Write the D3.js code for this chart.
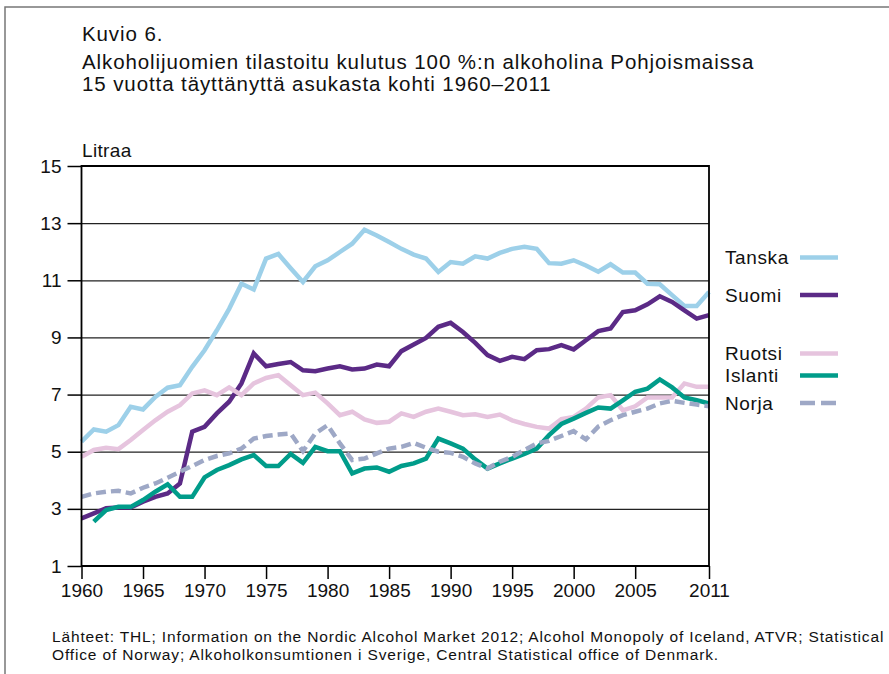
<!DOCTYPE html>
<html>
<head>
<meta charset="utf-8">
<script src="https://cdn.jsdelivr.net/npm/d3@7"></script>
<style>
  html, body { margin: 0; padding: 0; background: #fff; }
  svg { display: block; font-family: "Liberation Sans", Arial, Helvetica, sans-serif; }
</style>
</head>
<body>
<svg id="chart" width="889" height="674"></svg>
<script>
// ---- Data ----
const years = d3.range(1960, 2012);
const xTickValues = [1960, 1965, 1970, 1975, 1980, 1985, 1990, 1995, 2000, 2005, 2011];
const yTickValues = [1, 3, 5, 7, 9, 11, 13, 15];

const tanska = [5.35, 5.78, 5.70, 5.93, 6.57, 6.48, 6.92, 7.24, 7.33, 7.97,
  8.55, 9.25, 10.0, 10.88, 10.68, 11.76, 11.92, 11.42, 10.94, 11.49,
  11.70, 11.99, 12.28, 12.77, 12.57, 12.34, 12.10, 11.90, 11.76, 11.29,
  11.64, 11.58, 11.84, 11.76, 11.96, 12.10, 12.17, 12.10, 11.60, 11.58,
  11.70, 11.52, 11.30, 11.56, 11.27, 11.27, 10.88, 10.86, 10.48, 10.10,
  10.10, 10.59];
const suomi = [2.67, 2.84, 3.02, 3.05, 3.05, 3.25, 3.42, 3.54, 3.89, 5.70,
  5.87, 6.34, 6.75, 7.39, 8.44, 7.99, 8.07, 8.14, 7.85, 7.82,
  7.91, 7.99, 7.88, 7.91, 8.05, 7.99, 8.52, 8.75, 8.98, 9.37,
  9.51, 9.19, 8.81, 8.38, 8.18, 8.32, 8.24, 8.55, 8.59, 8.73,
  8.58, 8.90, 9.22, 9.31, 9.89, 9.95, 10.16, 10.44, 10.24, 9.95,
  9.66, 9.78];
const ruotsi = [4.82, 5.06, 5.14, 5.09, 5.41, 5.76, 6.10, 6.40, 6.63, 7.04,
  7.15, 6.98, 7.25, 6.98, 7.39, 7.58, 7.68, 7.33, 6.98, 7.07,
  6.69, 6.28, 6.40, 6.13, 6.01, 6.05, 6.34, 6.22, 6.40, 6.51,
  6.40, 6.28, 6.31, 6.22, 6.30, 6.10, 5.97, 5.87, 5.81, 6.14,
  6.22, 6.51, 6.90, 6.98, 6.45, 6.59, 6.90, 6.90, 6.90, 7.39,
  7.27, 7.27];
const islanti = [null, 2.55, 2.96, 3.07, 3.07, 3.31, 3.60, 3.86, 3.42, 3.42,
  4.10, 4.36, 4.53, 4.73, 4.88, 4.50, 4.50, 4.92, 4.61, 5.17,
  5.02, 5.02, 4.24, 4.41, 4.45, 4.30, 4.50, 4.59, 4.76, 5.46,
  5.29, 5.11, 4.73, 4.41, 4.59, 4.76, 4.92, 5.11, 5.58, 5.97,
  6.16, 6.36, 6.55, 6.51, 6.80, 7.10, 7.21, 7.53, 7.25, 6.90,
  6.80, 6.69];
const norja = [3.42, 3.54, 3.60, 3.63, 3.54, 3.74, 3.89, 4.09, 4.30, 4.50,
  4.71, 4.85, 4.94, 5.11, 5.46, 5.55, 5.60, 5.64, 5.02, 5.64,
  5.93, 5.29, 4.71, 4.76, 4.94, 5.11, 5.17, 5.31, 5.14, 5.00,
  4.96, 4.82, 4.59, 4.41, 4.65, 4.82, 5.06, 5.29, 5.38, 5.55,
  5.72, 5.43, 5.88, 6.10, 6.28, 6.40, 6.51, 6.69, 6.78, 6.71,
  6.65, 6.59];

const seriesNames = ["Tanska", "Suomi", "Ruotsi", "Islanti", "Norja"];
const seriesValues = [tanska, suomi, ruotsi, islanti, norja];
const seriesColors = ["#9dd0e9", "#5b2a86", "#e6c4de", "#009c8a", "#9ea8c6"];
const seriesDashed = [false, false, false, false, true];

const titleLines = ["Kuvio 6.",
  "Alkoholijuomien tilastoitu kulutus 100 %:n alkoholina Pohjoismaissa",
  "15 vuotta täyttänyttä asukasta kohti 1960–2011"];
const yLabel = "Litraa";
const sourceLines = ["Lähteet: THL; Information on the Nordic Alcohol Market 2012; Alcohol Monopoly of Iceland, ATVR; Statistical",
  "Office of Norway; Alkoholkonsumtionen i Sverige, Central Statistical office of Denmark."];

// ---- Layout ----
const svg = d3.select("#chart");
const pLeft = 81.5, pRight = 709, pTop = 166, pBottom = 566;
const x = d3.scaleLinear().domain([1960, 2011]).range([pLeft, pRight]);
const y = d3.scaleLinear().domain([1, 15]).range([pBottom, pTop]);

// outer border (top and left only)
svg.append("path")
  .attr("d", `M5,674 L5,7 L889,7`)
  .attr("fill", "none").attr("stroke", "#777").attr("stroke-width", 1.5);

// titles
svg.append("g").selectAll("text").data(titleLines).join("text")
  .attr("x", 82)
  .attr("y", (d, i) => [41, 69, 90.5][i])
  .attr("font-size", 20.5)
  .attr("letter-spacing", 0.9)
  .attr("fill", "#111")
  .text(d => d);

svg.append("text").attr("x", 82).attr("y", 157)
  .attr("font-size", 19).attr("letter-spacing", 0.35)
  .attr("fill", "#111").text(yLabel);

// gridlines
const grid = svg.append("g").attr("transform", `translate(${pLeft},0)`)
  .call(d3.axisLeft(y).tickValues(yTickValues).tickSize(-(pRight - pLeft)).tickFormat(""));
grid.select(".domain").remove();
grid.selectAll("line").attr("stroke", "#222").attr("stroke-width", 1.2);

// y axis
const yAxis = svg.append("g").attr("transform", `translate(${pLeft},0)`)
  .call(d3.axisLeft(y).tickValues(yTickValues).tickSize(14).tickPadding(6).tickFormat(d3.format("d")));
yAxis.select(".domain").remove();
yAxis.selectAll("line").attr("stroke", "#000").attr("stroke-width", 1.5);
yAxis.selectAll("text").attr("font-size", 19).attr("fill", "#111")
  .attr("font-family", "Liberation Sans, Arial, sans-serif");

// x axis
const xAxis = svg.append("g").attr("transform", `translate(0,${pBottom})`)
  .call(d3.axisBottom(x).tickValues(xTickValues).tickSize(13).tickPadding(5).tickFormat(d3.format("d")));
xAxis.select(".domain").remove();
xAxis.selectAll("line").attr("stroke", "#000").attr("stroke-width", 1.5);
xAxis.selectAll("text").attr("font-size", 19).attr("fill", "#111")
  .attr("font-family", "Liberation Sans, Arial, sans-serif");

// series lines
const line = d3.line()
  .defined(d => d.v != null)
  .x(d => x(d.year))
  .y(d => y(d.v));

seriesValues.forEach((vals, i) => {
  const pts = years.map((yr, j) => ({ year: yr, v: vals[j] }));
  svg.append("path")
    .datum(pts)
    .attr("d", line)
    .attr("fill", "none")
    .attr("stroke", seriesColors[i])
    .attr("stroke-width", 4.5)
    .attr("stroke-linejoin", "miter")
    .attr("stroke-dasharray", seriesDashed[i] ? "10,5" : null);
});

// frame
svg.append("path")
  .attr("d", `M${pLeft},${pBottom} L${pLeft},${pTop} L${pRight},${pTop} L${pRight},${pBottom} Z`)
  .attr("fill", "none").attr("stroke", "#000").attr("stroke-width", 1.8);

// legend
const legendY = [257.5, 295, 353.5, 375.5, 403];
const lg = svg.append("g").selectAll("g").data(seriesNames).join("g")
  .attr("transform", (d, i) => `translate(0,${legendY[i]})`);
lg.append("text").attr("x", 725).attr("y", 6.5)
  .attr("font-size", 19).attr("letter-spacing", 0.6)
  .attr("fill", "#111").text(d => d);
lg.append("line").attr("x1", 800).attr("x2", 838).attr("y1", 0).attr("y2", 0)
  .attr("stroke", (d, i) => seriesColors[i]).attr("stroke-width", 4.5)
  .attr("stroke-dasharray", (d, i) => seriesDashed[i] ? "15,6" : null);

// sources
svg.append("g").selectAll("text").data(sourceLines).join("text")
  .attr("x", 52)
  .attr("y", (d, i) => [642, 660][i])
  .attr("font-size", 15.5)
  .attr("letter-spacing", 0.85)
  .attr("fill", "#111")
  .text(d => d);
</script>
</body>
</html>
